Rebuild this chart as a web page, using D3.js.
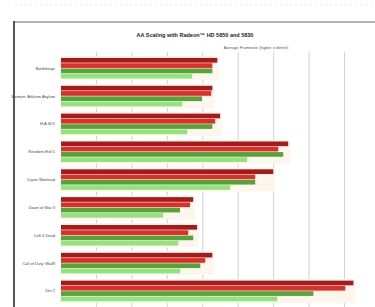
<!DOCTYPE html>
<html>
<head>
<meta charset="utf-8">
<script src="https://cdn.jsdelivr.net/npm/d3@7"></script>
<style>
  body{margin:0;background:#fff;}
  svg{display:block;font-family:"Liberation Sans",Arial,sans-serif;}
</style>
</head>
<body>
<svg id="chart" width="375" height="307"></svg>
<script>
// games (top to bottom)
var games=["Battleforge","Batman: Arkham Asylum","H.A.W.X","Resident Evil 5","Crysis Warhead",
           "Dawn of War II","Left 4 Dead","Call of Duty: WaW","Dirt 2","Far Cry 2"];
var series=["HD 5850 No AA","HD 5850 4x AA","HD 5830 No AA","HD 5830 4x AA"];
var s1=[44.1,42.7,44.9,64.1,59.9,37.3,38.4,42.7,82.5,45.5];
var s2=[42.7,42.4,43.5,61.3,54.8,36.4,35.9,40.7,80.2,43.0];
var s3=[42.7,39.8,42.7,62.7,54.8,33.6,37.3,39.3,71.2,41.0];
var s4=[37.0,34.2,35.6,52.5,47.7,28.8,33.1,33.6,61.0,36.0];
var ticks=[0,10,20,30,40,50,60,70,80,90];
var colors=["#a81a1a","#dc2f2a","#55a43a","#93e27c"];

var svg=d3.select("#chart");
var allvals=[s1,s2,s3,s4];

// page frame
svg.append("line").attr("x1",15).attr("x2",375).attr("y1",22).attr("y2",22)
   .attr("stroke","#9a9a9a").attr("stroke-width",1.5);
svg.append("line").attr("x1",14).attr("x2",14).attr("y1",21).attr("y2",307)
   .attr("stroke","#555").attr("stroke-width",2);
svg.append("line").attr("x1",15).attr("x2",375).attr("y1",5).attr("y2",5)
   .attr("stroke","#e4e4e4").attr("stroke-dasharray","2,3");

var x=d3.scaleLinear().domain([0,90]).range([61,380]);
var y=d3.scaleBand().domain(games).range([56,331]).paddingInner(0.24).paddingOuter(0.06);
var yi=d3.scaleBand().domain(d3.range(4)).range([0,y.bandwidth()]);

// gridlines
svg.append("g").selectAll("line").data(ticks.slice(1)).enter().append("line")
   .attr("x1",function(d){return x(d);}).attr("x2",function(d){return x(d);})
   .attr("y1",52).attr("y2",307)
   .attr("stroke","#ccd0d8").attr("stroke-width",1);

// soft glow behind each group
svg.append("g").selectAll("rect").data(games).enter().append("rect")
   .attr("x",61).attr("y",function(d){return y(d)-1.5;})
   .attr("width",function(d,i){return x(d3.max(allvals,function(s){return s[i];}))-59;})
   .attr("height",y.bandwidth()+3)
   .attr("fill","#fdf6ec");

var grp=svg.append("g").selectAll(".grp").data(games).enter().append("g")
   .attr("class","grp")
   .attr("transform",function(d){return "translate(0,"+y(d)+")";});

grp.selectAll("rect").data(function(d,i){
      return allvals.map(function(s,k){return {k:k,v:s[i]};});
   }).enter().append("rect")
   .attr("x",x(0))
   .attr("y",function(d){return yi(d.k)+0.3;})
   .attr("height",yi.bandwidth()-0.6)
   .attr("width",function(d){return x(d.v)-x(0);})
   .attr("fill",function(d){return colors[d.k];});

// category labels (only those inside the picture)
grp.filter(function(d){return y(d)+y.bandwidth()/2<300;})
   .append("text")
   .attr("x",55).attr("y",y.bandwidth()/2+1.5)
   .attr("text-anchor","end")
   .attr("font-size",4)
   .attr("fill","#444")
   .text(function(d){return d;});

// title + axis caption
svg.append("text").attr("x",195).attr("y",37).attr("text-anchor","middle")
   .attr("font-size",5.5).attr("font-weight","bold").attr("fill","#222")
   .text("AA Scaling with Radeon\u2122 HD 5850 and 5830");
svg.append("text").attr("x",256).attr("y",49).attr("text-anchor","middle")
   .attr("font-size",4).attr("fill","#555")
   .text("Average Framerate (higher is better)");
</script>
</body>
</html>
